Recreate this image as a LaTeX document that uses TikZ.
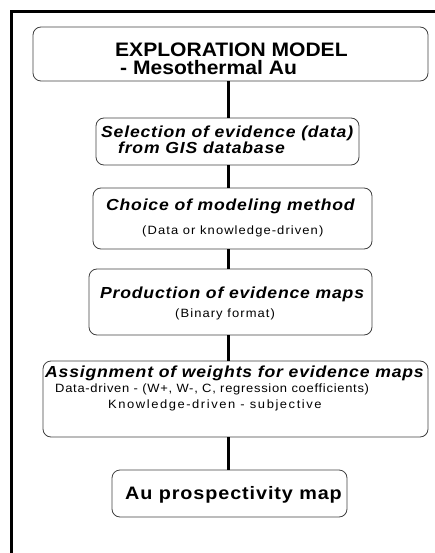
\documentclass[tikz,border=0pt]{standalone}
\usepackage{fontspec}
\setmainfont{Liberation Sans}
\newfontfamily\hdfont[FakeStretch=1.08]{Liberation Sans}
\newfontfamily\stfont[FakeStretch=1.1,LetterSpace=5]{Liberation Sans}
\newfontfamily\smfont[FakeStretch=1.08,LetterSpace=9]{Liberation Sans}
\newfontfamily\smfontA[FakeStretch=1.08,LetterSpace=6]{Liberation Sans}
\newfontfamily\smfontB[FakeStretch=1.08,LetterSpace=13]{Liberation Sans}
\begin{document}
\begin{tikzpicture}[x=1pt,y=-1pt,
  box/.style={draw=black!75,line width=0.8pt,rounded corners=8pt,inner sep=0pt},
  link/.style={line width=3pt,black},
  frame/.style={line width=3pt,black},
  title/.style={anchor=base west,inner sep=0pt,font=\hdfont\fontsize{19.5}{22}\selectfont\bfseries},
  steptext/.style={anchor=base west,inner sep=0pt,font=\stfont\fontsize{16}{19}\selectfont\bfseries\itshape},
  note/.style={anchor=base west,inner sep=0pt,font=\smfont\fontsize{12}{14}\selectfont},
  final/.style={anchor=base west,inner sep=0pt,font=\stfont\fontsize{18}{21}\selectfont\bfseries}]
\useasboundingbox (0,0) rectangle (435,553);
% frame (top and left edges visible)
\coordinate (fTR) at (435,12);
\coordinate (fTL) at (11,12);
\coordinate (fBL) at (11,553);
\draw[frame] (fTR) -- (fTL) -- (fBL);
% boxes
\node[box,minimum width=395pt,minimum height=54pt] (b1) at (230.5,54) {};
\node[box,minimum width=263pt,minimum height=47pt] (b2) at (227.5,141.5) {};
\node[box,minimum width=279pt,minimum height=61pt] (b3) at (232.5,218.5) {};
\node[box,minimum width=283pt,minimum height=66pt] (b4) at (230.5,302) {};
\node[box,minimum width=385pt,minimum height=76pt] (b5) at (235.5,399) {};
\node[box,minimum width=235pt,minimum height=47pt] (b6) at (229.5,493.5) {};
% texts
\node[title] (t1a) at (115,57) {EXPLORATION MODEL};
\node[title] (t1b) at (120,75) {- Mesothermal Au};
\node[steptext] (t2a) at (101,138) {Selection of evidence (data)};
\node[steptext] (t2b) at (118,154) {from GIS database};
\node[steptext] (t3a) at (106,211) {Choice of modeling method};
\node[note] (t3b) at (142,234) {(Data or knowledge-driven)};
\node[steptext] (t4a) at (100,298) {Production of evidence maps};
\node[note] (t4b) at (175,317) {(Binary format)};
\node[steptext] (t5a) at (45,377) {Assignment of weights for evidence maps};
\node[note,font=\smfontA\fontsize{12}{14}\selectfont] (t5b) at (55,392) {Data-driven - (W+, W-, C, regression coefficients)};
\node[note,font=\smfontB\fontsize{12}{14}\selectfont] (t5c) at (108,408) {Knowledge-driven - subjective};
\node[final] (t6) at (125,499) {Au prospectivity map};
% connectors
\coordinate (cx) at (228,0);
\draw[link] (b1.south -| cx) -- (b2.north -| cx);
\draw[link] (b2.south -| cx) -- (b3.north -| cx);
\draw[link] (b3.south -| cx) -- (b4.north -| cx);
\draw[link] (b4.south -| cx) -- (b5.north -| cx);
\draw[link] (b5.south -| cx) -- (b6.north -| cx);
\end{tikzpicture}
\end{document}
